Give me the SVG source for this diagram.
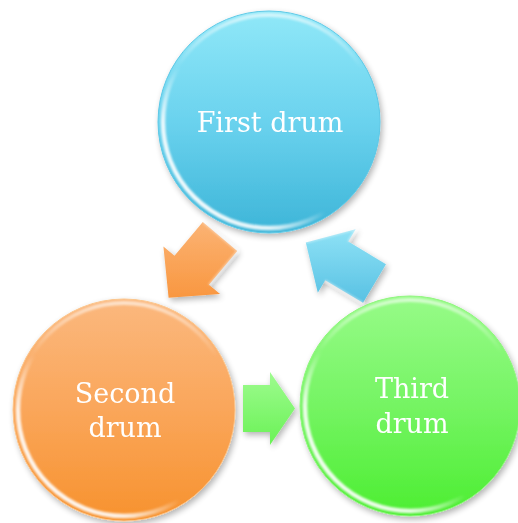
<svg xmlns="http://www.w3.org/2000/svg" width="518" height="523" viewBox="0 0 518 523">
  <defs>
    <style>
      .label { font-family: "DejaVu Serif", "Liberation Serif", serif; font-size: 27px; fill: #ffffff; text-anchor: middle; }
      .rim { fill: none; stroke: url(#rimLight); stroke-width: 4.5; filter: url(#soft); }
      .gloss { fill: none; stroke: url(#topLight); stroke-width: 4; filter: url(#soft); }
      .bevel { fill: none; stroke: #ffffff; stroke-opacity: 0.55; stroke-width: 1.5; filter: url(#soft); }
    </style>
    <filter id="shadow" x="-20%" y="-20%" width="140%" height="140%">
      <feGaussianBlur in="SourceAlpha" stdDeviation="3"/>
      <feOffset dx="2" dy="3" result="off"/>
      <feComponentTransfer><feFuncA type="linear" slope="0.3"/></feComponentTransfer>
      <feMerge><feMergeNode/><feMergeNode in="SourceGraphic"/></feMerge>
    </filter>
    <filter id="soft" x="-10%" y="-10%" width="120%" height="120%">
      <feGaussianBlur stdDeviation="1.2"/>
    </filter>
    <!-- rim light strongest at lower left -->
    <linearGradient id="rimLight" x1="0" y1="1" x2="1" y2="0">
      <stop offset="0" stop-color="#ffffff" stop-opacity="1"/>
      <stop offset="0.25" stop-color="#ffffff" stop-opacity="0.85"/>
      <stop offset="0.42" stop-color="#ffffff" stop-opacity="0"/>
    </linearGradient>
    <linearGradient id="topLight" x1="0" y1="0" x2="0" y2="1">
      <stop offset="0" stop-color="#ffffff" stop-opacity="0.6"/>
      <stop offset="0.25" stop-color="#ffffff" stop-opacity="0"/>
    </linearGradient>
    <linearGradient id="blueFill" x1="0" y1="0" x2="0" y2="1">
      <stop offset="0" stop-color="#90e8f8"/>
      <stop offset="0.5" stop-color="#6ad2ee"/>
      <stop offset="1" stop-color="#3db5d8"/>
    </linearGradient>
    <linearGradient id="orangeFill" x1="0" y1="0" x2="0" y2="1">
      <stop offset="0" stop-color="#fbb87e"/>
      <stop offset="0.5" stop-color="#faa65a"/>
      <stop offset="1" stop-color="#f7922e"/>
    </linearGradient>
    <linearGradient id="greenFill" x1="0" y1="0" x2="0" y2="1">
      <stop offset="0" stop-color="#97fb88"/>
      <stop offset="0.5" stop-color="#75f463"/>
      <stop offset="1" stop-color="#4cee31"/>
    </linearGradient>
    <linearGradient id="orangeArrow" x1="0" y1="0" x2="0" y2="1">
      <stop offset="0" stop-color="#fbb374"/>
      <stop offset="1" stop-color="#f99740"/>
    </linearGradient>
    <linearGradient id="blueArrow" x1="0" y1="0" x2="0" y2="1">
      <stop offset="0" stop-color="#8fe2f6"/>
      <stop offset="1" stop-color="#58c1e3"/>
    </linearGradient>
    <linearGradient id="greenArrow" x1="0" y1="0" x2="0" y2="1">
      <stop offset="0" stop-color="#9efb8f"/>
      <stop offset="1" stop-color="#6af256"/>
    </linearGradient>
  </defs>

  <!-- arrows between the drums -->
  <g id="connectors">
    <g filter="url(#shadow)">
      <polygon fill="url(#orangeArrow)" points="237.2,251.0 208.9,284.7 220.1,294.0 168.6,297.8 163.4,246.4 174.5,255.7 202.8,222.0"/>
      <polyline class="bevel" points="202.8,222.0 237.2,251.0 208.9,284.7"/>
    </g>
    <g filter="url(#shadow)">
      <polygon fill="url(#blueArrow)" points="363.0,302.8 325.2,280.3 317.8,292.8 305.8,242.5 355.6,229.2 348.2,241.6 386.0,264.2"/>
      <polyline class="bevel" points="305.8,242.5 355.6,229.2 348.2,241.6"/>
      <polyline class="bevel" points="325.2,280.3 363.0,302.8"/>
    </g>
    <g filter="url(#shadow)">
      <polygon fill="url(#greenArrow)" points="243,385 270,385 270,372 295,408.5 270,445 270,432 243,432"/>
      <polyline class="bevel" points="243,386 270,386"/>
    </g>
  </g>

  <g id="first-drum" filter="url(#shadow)">
    <circle cx="269" cy="122" r="111" fill="url(#blueFill)" stroke="#5cc8e6" stroke-width="1"/>
    <circle class="rim" cx="269" cy="122" r="106"/>
    <circle class="gloss" cx="269" cy="122" r="107"/>
    <text class="label" x="270" y="132">First drum</text>
  </g>

  <g id="second-drum" filter="url(#shadow)">
    <circle cx="124" cy="410" r="111" fill="url(#orangeFill)" stroke="#fbc48a" stroke-width="1"/>
    <circle class="rim" cx="124" cy="410" r="106"/>
    <circle class="gloss" cx="124" cy="410" r="107"/>
    <text class="label" x="125" y="403">Second</text>
    <text class="label" x="125" y="437">drum</text>
  </g>

  <g id="third-drum" filter="url(#shadow)">
    <circle cx="410" cy="406" r="110" fill="url(#greenFill)" stroke="#8ef57c" stroke-width="1"/>
    <circle class="rim" cx="410" cy="406" r="105"/>
    <circle class="gloss" cx="410" cy="406" r="106"/>
    <text class="label" x="412" y="398">Third</text>
    <text class="label" x="412" y="433">drum</text>
  </g>
</svg>
